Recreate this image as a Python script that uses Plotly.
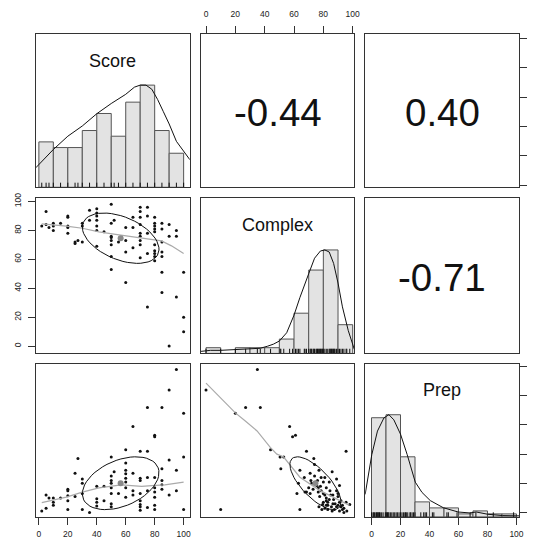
import numpy as np
import plotly.graph_objects as go

# ---------------------------------------------------------------- data
variables = ["Score", "Complex", "Prep"]
var_means = [56.5, 74.6, 20.1]
var_sds = [26.5, 17.4, 18.1]
cor_score_complex = -0.44
cor_score_prep = 0.40
cor_complex_prep = -0.71

bin_edges = [0, 10, 20, 30, 40, 50, 60, 70, 80, 90, 100]
score_counts = [8, 7, 7, 10, 13, 9, 15, 18, 10, 6]
complex_counts = [2, 0, 2, 2, 2, 5, 14, 29, 36, 10]
prep_counts = [33, 34, 20, 5, 3, 3, 1, 2, 1, 1]

# scaled kernel density estimates (peak = 1)
score_dens_x = [-2.2, 5, 10, 20, 30, 40, 50, 60, 66, 70, 74, 78, 82, 86, 90, 95, 100, 104.3]
score_dens_y = [0.19, 0.3, 0.37, 0.5, 0.6, 0.72, 0.82, 0.91, 0.98, 1.0, 1.0, 0.96, 0.86, 0.74, 0.62, 0.45, 0.35, 0.27]
complex_dens_x = [-3.4, 3, 10, 20, 30, 37, 42, 46, 50, 55, 60, 64, 70, 74, 78, 81, 84, 87, 90, 93, 97, 100, 101.1]
complex_dens_y = [0.02, 0.03, 0.03, 0.035, 0.04, 0.05, 0.07, 0.09, 0.12, 0.2, 0.37, 0.54, 0.77, 0.92, 0.99, 1.0, 0.98, 0.87, 0.68, 0.45, 0.22, 0.07, 0.04]
prep_dens_x = [-4.4, -3.9, 0.2, 4.1, 8.6, 12, 15.4, 20, 24.6, 30.2, 34.8, 40.5, 49.5, 59.8, 67.7, 72.3, 80.2, 90.5, 100.3, 101.8]
prep_dens_y = [0.22, 0.26, 0.61, 0.84, 0.97, 1.0, 0.95, 0.81, 0.61, 0.34, 0.24, 0.16, 0.09, 0.048, 0.039, 0.048, 0.026, 0.013, 0.01, 0.01]

# Score vs Complex
sc_score = [2, 5, 5, 7, 10, 10, 10, 15,
            20, 20, 20, 20, 20,
            25, 25, 27,
            30, 30, 30,
            35, 35,
            40, 40, 40, 40, 40, 40, 40,
            45,
            50, 50, 50, 50, 50, 50, 50, 50,
            52, 55,
            60, 60, 60, 60,
            65, 65, 65,
            70, 70, 70, 70, 70, 70, 70, 70, 70,
            75, 75, 75, 75, 75,
            80, 80, 80, 80, 80, 80, 80, 80, 80, 80,
            85, 85, 85, 85, 85, 85, 85,
            90, 90, 90,
            95, 95, 95,
            100, 100, 100]
sc_complex = [83, 93, 84, 82, 85, 83, 80, 85,
              90, 89, 83, 82, 78,
              72, 71, 73,
              85, 83, 72,
              94, 87,
              95, 92, 90, 87, 83, 80, 69,
              79,
              98, 85, 76, 75, 73, 70, 62, 53,
              87, 72,
              82, 73, 65, 44,
              89, 82, 68,
              96, 93, 89, 84, 78, 76, 73, 70, 61,
              96, 90, 78, 64, 27,
              89, 85, 83, 81, 79, 70, 66, 64, 62, 59,
              85, 81, 72, 65, 62, 51, 37,
              84, 76, 0,
              80, 76, 34,
              51, 20, 10]

# Score vs Prep
sp_score = [2, 5, 5, 7, 10, 10, 10, 15,
            20, 20, 20, 20, 20,
            25, 25, 27,
            30, 30, 30, 30,
            35,
            40, 40, 40, 40,
            45, 45,
            50, 50, 50, 50, 50, 50, 50, 50,
            52, 55,
            60, 60, 60, 60, 60, 60, 60, 60,
            65, 65, 65, 65,
            70, 70, 70, 70, 70, 70, 70, 70,
            75, 75, 75, 75, 75,
            80, 80, 80, 80, 80, 80, 80, 80,
            85, 85, 85, 85, 85,
            90, 90, 90,
            95, 95, 95,
            100, 100, 100]
sp_prep = [1, 12, 3, 10, 10, 7, 5, 10,
           16, 15, 11.5, 8, 2,
           27, 11, 37,
           23, 20, 13, 2,
           0,
           18, 9.5, 7, 4.5,
           18, 8,
           38, 25, 22, 20, 17, 13, 6, 4,
           28, 13,
           43, 34, 29, 26.5, 23.5, 21, 17, 10.5,
           59, 27, 15, 12,
           42, 23.5, 22, 13, 8, 5.5, 4, 1.5,
           72, 42, 24, 15, 3.5,
           53, 52, 24, 17, 14, 10.5, 5, 2,
           72, 30, 22, 19, 16,
           84, 36, 12,
           98, 29, 15,
           68, 38, 2]

# Complex vs Prep
cp_complex = [0, 10, 20, 27, 35, 37, 44, 50.5, 53, 51,
              57, 59, 61, 62, 64, 64, 67, 68.5, 67.5, 71,
              71.5, 73.5, 74, 75, 75.5, 73, 71, 77, 78.5, 78.5,
              80, 81, 82, 82, 83, 83, 83, 84, 84.5, 86,
              86.5, 86.5, 87.5, 89, 89, 90, 90, 91, 91, 92,
              93, 94, 95.5, 95.5, 98, 70, 76.5, 77.5, 80, 82,
              85.5, 89, 79.5, 76.5, 81, 68.5, 63,
              72, 74, 76, 78, 80, 82, 84, 85, 87, 88,
              90, 92, 93, 94, 96, 79, 81, 77, 86, 91]
cp_prep = [84, 2, 68, 72, 98, 72, 43, 38, 38, 30,
           59, 52, 53, 13, 29, 2, 24, 42, 14, 27,
           22, 37, 33, 21, 18.5, 16, 13, 29, 24, 15,
           21, 12, 17, 8, 7, 5, 2, 21, 15, 28,
           12, 6, 2, 23, 15, 11, 5, 18.5, 7, 4,
           2, 0, 42, 7, 5.5, 17, 14, 11, 7, 5,
           4, 4, 5.5, 17, 24, 14, 20,
           20, 25, 22, 18, 13, 10, 9, 12, 9, 6,
           13, 8, 5, 3, 1, 2, 3, 4, 1, 1]

# loess smoothers
lo_sc_x = [2, 19, 30, 41.5, 53, 64, 75.6, 84.7, 91.6, 100]
lo_sc_y = [84.5, 83, 81.5, 79, 77.3, 75.7, 74.3, 72.7, 69.3, 64]
lo_sp_x = [2, 19, 30, 41.5, 53, 57.5, 64, 71, 78, 87, 100]
lo_sp_y = [6.8, 10.6, 14, 16.9, 18.5, 19, 18.5, 17.9, 18.5, 19, 20.8]
lo_cp_x = [0, 20, 27, 34.8, 43.8, 48.3, 52.8, 64, 77.5, 97.8]
lo_cp_y = [88.7, 68.3, 62.6, 55.9, 44.6, 40, 38.2, 24.2, 15.2, 4.9]

tick_vals = [0, 20, 40, 60, 80, 100]
tick_text = ["0", "20", "40", "60", "80", "100"]

# ---------------------------------------------------------------- layout geometry
W, H = 538, 539
col_px = [(36.5, 192.0), (203.3, 358.3), (369.3, 525.0)]
row_px = [(29.3, 184.0), (195.0, 351.7), (362.0, 516.7)]
x_ranges = [[-1.91, 104.3], [-3.4, 101.1], [-4.37, 101.84]]
y_ranges = [[-1.56, 103.2], [-5.07, 102.26], [-2.99, 102.04]]

FONT = "Liberation Sans, Arial, sans-serif"
LINE = "#333333"
TICKFONT = dict(family=FONT, size=8.5, color="#222222")


def ax_id(r, c):
    return r * 3 + c + 1


def xname(k):
    return "x" if k == 1 else f"x{k}"


def yname(k):
    return "y" if k == 1 else f"y{k}"


fig = go.Figure()
layout = {}

for r in range(3):
    for c in range(3):
        k = ax_id(r, c)
        x0, x1 = col_px[c]
        y0, y1 = row_px[r]
        xa = dict(domain=[x0 / W, x1 / W], range=x_ranges[c], anchor=yname(k),
                  showgrid=False, zeroline=False, showline=True, mirror=True,
                  linecolor=LINE, linewidth=1, ticks="", showticklabels=False,
                  fixedrange=True)
        ya = dict(domain=[1 - y1 / H, 1 - y0 / H],
                  range=[0, 1.5] if r == c else y_ranges[r], anchor=xname(k),
                  showgrid=False, zeroline=False, showline=True, mirror=True,
                  linecolor=LINE, linewidth=1, ticks="", showticklabels=False,
                  fixedrange=True)
        layout[f"xaxis{k}"] = xa
        layout[f"yaxis{k}"] = ya
        # placeholder so every panel is drawn
        fig.add_trace(go.Scatter(x=[None], y=[None], xaxis=xname(k), yaxis=yname(k),
                                 showlegend=False, hoverinfo="skip"))

tick_style = dict(ticks="outside", ticklen=7, tickwidth=1, tickcolor=LINE,
                  tickmode="array", tickvals=tick_vals, ticktext=tick_text,
                  tickfont=TICKFONT)

layout["xaxis2"].update(side="top", showticklabels=True, ticklabelstandoff=6, **tick_style)
layout["yaxis4"].update(side="left", showticklabels=True, tickangle=-90,
                        ticklabelstandoff=4, **tick_style)
layout["xaxis7"].update(side="bottom", showticklabels=True, ticklabelstandoff=2, **tick_style)
layout["xaxis9"].update(side="bottom", showticklabels=True, ticklabelstandoff=2, **tick_style)
layout["yaxis3"].update(side="right", showticklabels=False,
                        **{k: v for k, v in tick_style.items() if k != "tickfont"})
# Prep scale ticks on the right of the Prep histogram panel
layout["yaxis10"] = dict(overlaying="y9", side="right", anchor="x9", range=y_ranges[2],
                         showgrid=False, zeroline=False, showline=False,
                         showticklabels=False, fixedrange=True,
                         **{k: v for k, v in tick_style.items() if k != "tickfont"})
fig.add_trace(go.Scatter(x=[None], y=[None], xaxis="x9", yaxis="y10",
                         showlegend=False, hoverinfo="skip"))

# ---------------------------------------------------------------- diagonal: histograms
diag = [
    (score_counts, score_dens_x, score_dens_y, sc_score),
    (complex_counts, complex_dens_x, complex_dens_y, cp_complex),
    (prep_counts, prep_dens_x, prep_dens_y, sp_prep),
]
annotations = []
centers = [(a + b) / 2 for a, b in zip(bin_edges[:-1], bin_edges[1:])]
for i, (counts, dx, dy, raw) in enumerate(diag):
    k = ax_id(i, i)
    heights = np.array(counts, dtype=float) / max(counts)
    fig.add_trace(go.Bar(x=centers, y=heights, width=10,
                         marker=dict(color="#e3e3e3", line=dict(color="#555555", width=1)),
                         xaxis=xname(k), yaxis=yname(k), showlegend=False, hoverinfo="skip"))
    fig.add_trace(go.Scatter(x=dx, y=dy, mode="lines", line=dict(color="#111111", width=1),
                             xaxis=xname(k), yaxis=yname(k), showlegend=False, hoverinfo="skip"))
    # rug
    rx, ry = [], []
    for v in sorted(set(raw)):
        rx += [v, v, None]
        ry += [0, 0.045, None]
    fig.add_trace(go.Scatter(x=rx, y=ry, mode="lines", line=dict(color="#111111", width=1),
                             xaxis=xname(k), yaxis=yname(k), showlegend=False, hoverinfo="skip"))
    annotations.append(dict(x=sum(x_ranges[i]) / 2, y=1.5 * (1 - 27 / 155),
                            xref=xname(k), yref=yname(k), text=variables[i],
                            showarrow=False, xanchor="center", yanchor="middle",
                            font=dict(family=FONT, size=18, color="#111111")))

# ---------------------------------------------------------------- upper panels: correlations
cor_cells = [((0, 1), cor_score_complex), ((0, 2), cor_score_prep), ((1, 2), cor_complex_prep)]
for (r, c), val in cor_cells:
    cx = (col_px[c][0] + col_px[c][1]) / 2
    cy = (row_px[r][0] + row_px[r][1]) / 2 + 1.5
    annotations.append(dict(x=cx / W, y=1 - cy / H, xref="paper", yref="paper",
                            text=f"{val:.2f}", showarrow=False,
                            xanchor="center", yanchor="middle",
                            font=dict(family=FONT, size=38.5, color="#111111")))


# ---------------------------------------------------------------- lower panels: scatter, loess, ellipse
def ellipse(mx, my, sx, sy, r, segments=51):
    ang = np.arange(segments + 1) * 2 * np.pi / segments
    circ = np.column_stack([np.cos(ang), np.sin(ang)])
    th = np.sign(r) / np.sqrt(2) if abs(r) > 0 else 1 / np.sqrt(2)
    shape = np.diag([np.sqrt(1 + r), np.sqrt(1 - r)]) @ np.array([[th, th], [-th, th]])
    e = circ @ shape
    return e[:, 0] * sx + mx, e[:, 1] * sy + my


lower = [
    ((1, 0), sc_score, sc_complex, lo_sc_x, lo_sc_y, cor_score_complex),
    ((2, 0), sp_score, sp_prep, lo_sp_x, lo_sp_y, cor_score_prep),
    ((2, 1), cp_complex, cp_prep, lo_cp_x, lo_cp_y, cor_complex_prep),
]
for (r, c), xs, ys, lx, ly, rv in lower:
    k = ax_id(r, c)
    kw = dict(xaxis=xname(k), yaxis=yname(k), showlegend=False, hoverinfo="skip")
    fig.add_trace(go.Scatter(x=xs, y=ys, mode="markers",
                             marker=dict(size=3, color="#111111", line=dict(width=0)), **kw))
    fig.add_trace(go.Scatter(x=lx, y=ly, mode="lines",
                             line=dict(color="#aaaaaa", width=1.2), **kw))
    ex, ey = ellipse(var_means[c], var_means[r], var_sds[c], var_sds[r], rv)
    fig.add_trace(go.Scatter(x=ex, y=ey, mode="lines",
                             line=dict(color="#111111", width=1), **kw))
    fig.add_trace(go.Scatter(x=[var_means[c]], y=[var_means[r]], mode="markers",
                             marker=dict(size=6, color="#8a8a8a"), **kw))

fig.update_layout(
    width=W, height=H, margin=dict(l=0, r=0, t=0, b=0),
    paper_bgcolor="white", plot_bgcolor="white",
    showlegend=False, annotations=annotations,
    font=dict(family=FONT), **layout,
)
fig.write_html("out.html", config={"displayModeBar": False})
